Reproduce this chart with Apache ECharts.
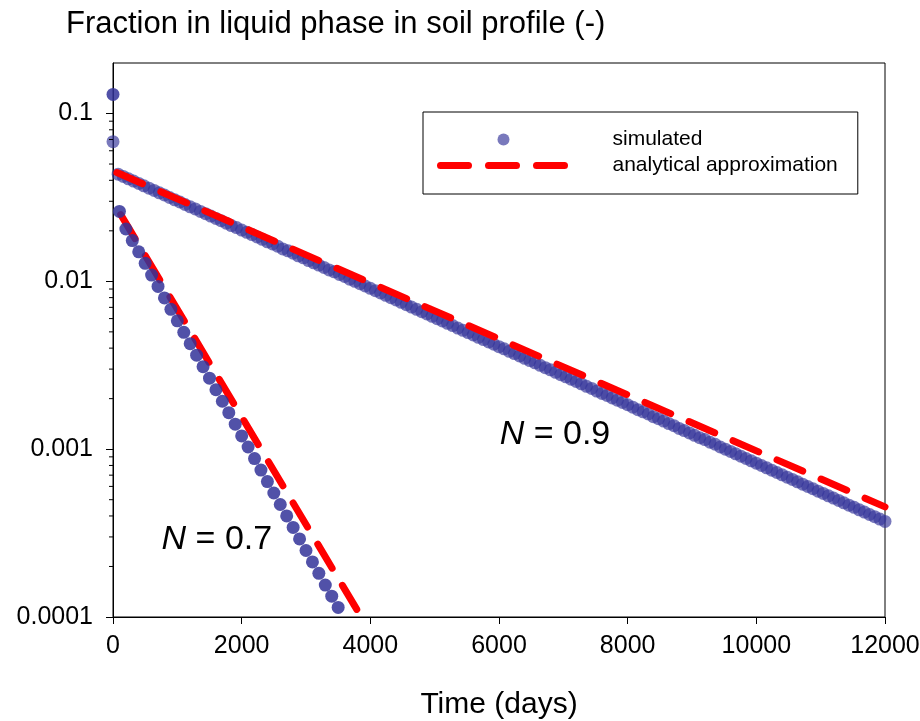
<!DOCTYPE html>
<html>
<head>
<meta charset="utf-8">
<script src="https://cdn.jsdelivr.net/npm/echarts@6/dist/echarts.min.js"></script>
<style>
  html, body { margin: 0; padding: 0; background: #fff; }
  #chart { width: 920px; height: 721px; }
</style>
</head>
<body>
<div id="chart"></div>
<script>
const FONT = '"Liberation Sans", Arial, Helvetica, sans-serif';

// Simulated fraction, N = 0.9 (time in days)
const timesN09 = [0,
  80,160,240,320,400,480,560,640,720,800,
  880,960,1040,1120,1200,1280,1360,1440,1520,1600,
  1680,1760,1840,1920,2000,2080,2160,2240,2320,2400,
  2480,2560,2640,2720,2800,2880,2960,3040,3120,3200,
  3280,3360,3440,3520,3600,3680,3760,3840,3920,4000,
  4080,4160,4240,4320,4400,4480,4560,4640,4720,4800,
  4880,4960,5040,5120,5200,5280,5360,5440,5520,5600,
  5680,5760,5840,5920,6000,6080,6160,6240,6320,6400,
  6480,6560,6640,6720,6800,6880,6960,7040,7120,7200,
  7280,7360,7440,7520,7600,7680,7760,7840,7920,8000,
  8080,8160,8240,8320,8400,8480,8560,8640,8720,8800,
  8880,8960,9040,9120,9200,9280,9360,9440,9520,9600,
  9680,9760,9840,9920,10000,10080,10160,10240,10320,10400,
  10480,10560,10640,10720,10800,10880,10960,11040,11120,11200,
  11280,11360,11440,11520,11600,11680,11760,11840,11920,12000];
const simN09 = [0.068,
  0.0435,0.0422,0.0408,0.0396,0.0383,0.0371,0.0359,0.0348,0.0337,0.0327,
  0.0316,0.0306,0.0297,0.0287,0.0278,0.0270,0.0261,0.0253,0.0245,0.0237,
  0.0230,0.0222,0.0215,0.0209,0.0202,0.0196,0.0190,0.0184,0.0178,0.0172,
  0.0167,0.0162,0.0156,0.0152,0.0147,0.0142,0.0138,0.0133,0.0129,0.0125,
  0.0121,0.0117,0.0114,0.0110,0.0107,0.0103,0.0100,0.00969,0.00938,0.00909,
  0.00880,0.00852,0.00825,0.00799,0.00774,0.00750,0.00726,0.00703,0.00681,0.00660,
  0.00639,0.00619,0.00599,0.00581,0.00562,0.00545,0.00527,0.00511,0.00495,0.00479,
  0.00464,0.00450,0.00435,0.00422,0.00408,0.00396,0.00383,0.00371,0.00359,0.00348,
  0.00337,0.00327,0.00316,0.00306,0.00297,0.00287,0.00278,0.00270,0.00261,0.00253,
  0.00245,0.00237,0.00230,0.00222,0.00215,0.00209,0.00202,0.00196,0.00190,0.00184,
  0.00178,0.00172,0.00167,0.00162,0.00156,0.00152,0.00147,0.00142,0.00138,0.00133,
  0.00129,0.00125,0.00121,0.00117,0.00114,0.00110,0.00107,0.00103,0.00100,0.000969,
  0.000938,0.000909,0.000880,0.000852,0.000825,0.000799,0.000774,0.000750,0.000726,0.000703,
  0.000681,0.000660,0.000639,0.000619,0.000599,0.000581,0.000562,0.000545,0.000527,0.000511,
  0.000495,0.000479,0.000464,0.000450,0.000435,0.000422,0.000408,0.000396,0.000383,0.000371];

// Simulated fraction, N = 0.7
const timesN07 = [0,100,200,300,400,500,600,700,800,900,1000,1100,1200,1300,1400,1500,1600,1700,
  1800,1900,2000,2100,2200,2300,2400,2500,2600,2700,2800,2900,3000,3100,3200,3300,3400,3500];
const simN07 = [0.13,0.0261,0.0205,0.0175,0.0150,0.0128,0.0109,0.00933,0.00797,0.00681,0.00582,
  0.00497,0.00425,0.00363,0.00310,0.00265,0.00226,0.00193,0.00165,0.00141,0.00120,0.00103,
  0.000879,0.000751,0.000641,0.000548,0.000468,0.000400,0.000342,0.000292,0.000249,0.000213,
  0.000182,0.000155,0.000133,0.000114];

// Analytical approximation (straight lines on the log axis: end points)
const anaTimesN09 = [60, 12000];
const anaN09 = [0.0445, 0.000453];
const anaTimesN07 = [120, 3860];
const anaN07 = [0.025, 0.0001];

// Axis ticks
const xTickStep = 2000;
const yMajorTicks = [0.0001, 0.001, 0.01, 0.1];
const yTickLabels = ['0.0001', '0.001', '0.01', '0.1'];
const yMinorTicks = [0.0002,0.0003,0.0004,0.0005,0.0006,0.0007,0.0008,0.0009,
  0.002,0.003,0.004,0.005,0.006,0.007,0.008,0.009,
  0.02,0.03,0.04,0.05,0.06,0.07,0.08,0.09];

// Curve annotations: text and anchor (days, fraction)
const curveNotes = [
  { value: '0.9', t: 6870, v: 0.001215 },
  { value: '0.7', t: 1615, v: 0.000288 }
];

const legendNames = ['simulated', 'analytical approximation'];

function pairs(xs, ys) { return xs.map((x, i) => [x, ys[i]]); }

const chart = echarts.init(document.getElementById('chart'), null, { renderer: 'canvas' });

const redLine = {
  color: '#ff0000', width: 7, type: [28, 20], cap: 'round', join: 'round'
};

chart.setOption({
  animation: false,
  backgroundColor: '#ffffff',
  textStyle: { fontFamily: FONT, color: '#000' },
  title: {
    text: 'Fraction in liquid phase in soil profile (-)',
    left: 61, top: 4,
    textStyle: { fontFamily: FONT, fontSize: 31, fontWeight: 'normal', color: '#000' }
  },
  legend: {
    orient: 'vertical',
    left: 423, top: 112,
    padding: [17, 20, 18, 14],
    itemWidth: 126, itemHeight: 12, itemGap: 5,
    borderColor: '#000', borderWidth: 1, borderRadius: 0,
    selectedMode: false,
    lineStyle: { width: 7 },
    textStyle: { fontFamily: FONT, fontSize: 21, color: '#000', lineHeight: 21, padding: [0, 0, 0, 41] },
    data: legendNames
  },
  grid: {
    left: 113, right: 35, top: 63, bottom: 104,
    outerBoundsMode: 'none', containLabel: false,
    show: true, borderColor: '#000', borderWidth: 1, backgroundColor: 'transparent'
  },
  xAxis: {
    type: 'value', min: 0, max: 12000, interval: xTickStep,
    name: 'Time (days)', nameLocation: 'middle', nameGap: 73,
    nameTextStyle: { fontFamily: FONT, fontSize: 30, color: '#000' },
    axisLine: { lineStyle: { color: '#000', width: 1 } },
    axisTick: { show: true, inside: false, length: 7, lineStyle: { color: '#000' } },
    axisLabel: {
      fontFamily: FONT, fontSize: 25, color: '#000', margin: 17,
      formatter: function (val) { return String(val); }
    },
    splitLine: { show: false }
  },
  yAxis: {
    type: 'log', logBase: 10, min: 0.0001, max: 0.2,
    axisLine: { show: true, lineStyle: { color: '#000', width: 1 } },
    axisTick: { show: true, inside: false, length: 7, customValues: yMajorTicks, lineStyle: { color: '#000' } },
    axisLabel: {
      fontFamily: FONT, fontSize: 25, color: '#000', margin: 20,
      customValues: yMajorTicks,
      formatter: function (val) {
        let best = 0;
        yMajorTicks.forEach((t, i) => {
          if (Math.abs(Math.log10(t) - Math.log10(val)) < Math.abs(Math.log10(yMajorTicks[best]) - Math.log10(val))) best = i;
        });
        return yTickLabels[best];
      }
    },
    splitLine: { show: false }
  },
  series: [
    {
      name: 'simulated', type: 'scatter', z: 2,
      symbol: 'circle', symbolSize: 13,
      itemStyle: { color: '#333399', opacity: 0.66 },
      data: pairs(timesN09, simN09)
    },
    {
      name: 'analytical approximation', type: 'line', z: 3,
      showSymbol: false, symbol: 'none',
      itemStyle: { color: '#ff0000', opacity: 0 },
      lineStyle: redLine,
      data: pairs(anaTimesN09, anaN09)
    },
    {
      name: 'analytical approximation', type: 'line', z: 4,
      showSymbol: false, symbol: 'none',
      itemStyle: { color: '#ff0000', opacity: 0 },
      lineStyle: redLine,
      data: pairs(anaTimesN07, anaN07)
    },
    {
      name: 'simulated', type: 'scatter', z: 5,
      symbol: 'circle', symbolSize: 13,
      itemStyle: { color: '#333399', opacity: 0.85 },
      data: pairs(timesN07, simN07)
    },
    {
      // minor log ticks on the y axis (2..9 within each decade)
      type: 'custom', silent: true, z: 6, clip: false,
      data: yMinorTicks.map(v => [0, v]),
      renderItem: function (params, api) {
        const p = api.coord([api.value(0), api.value(1)]);
        return {
          type: 'line',
          shape: { x1: p[0] - 4, y1: p[1], x2: p[0], y2: p[1] },
          style: { stroke: '#000', lineWidth: 1 }
        };
      }
    }
  ]
});

// Curve annotations placed at data coordinates
chart.setOption({
  graphic: curveNotes.map(n => {
    const p = chart.convertToPixel({ xAxisIndex: 0, yAxisIndex: 0 }, [n.t, n.v]);
    return {
      type: 'text', x: p[0], y: p[1], z: 10,
      style: {
        text: '{i|N} = ' + n.value,
        fontFamily: FONT, fontSize: 34, fill: '#000',
        align: 'center', verticalAlign: 'middle',
        rich: { i: { fontStyle: 'italic', fontFamily: FONT, fontSize: 34 } }
      }
    };
  })
});
</script>
</body>
</html>
